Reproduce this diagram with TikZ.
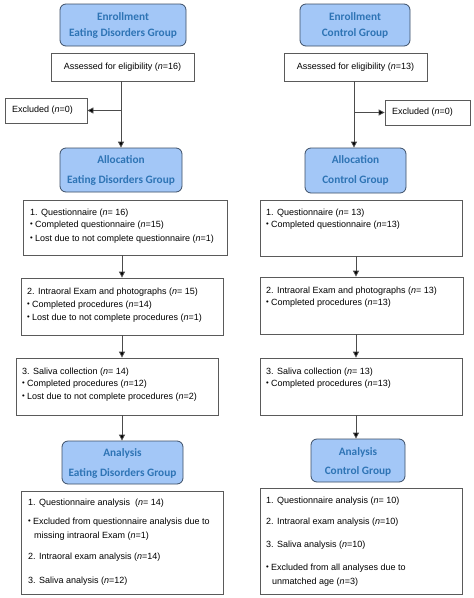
\documentclass[tikz,border=0pt]{standalone}
\usepackage{fontspec}
\usepackage{graphicx}
\setmainfont{Liberation Sans}
\newfontfamily\headfont{Carlito}
\usetikzlibrary{arrows.meta}
\definecolor{hfill}{HTML}{A3C7F7}
\definecolor{hdraw}{HTML}{3C4E66}
\definecolor{htext}{HTML}{2E74B5}
\definecolor{bdraw}{HTML}{5A5A5A}
\newcommand\bul{\raisebox{0.15ex}{\scalebox{0.85}{•}}\hspace{0.25em}}
\begin{document}
\begin{tikzpicture}[x=1pt,y=-1pt,
  head/.style={draw=hdraw,fill=hfill,rounded corners=6pt,line width=0.8pt,inner sep=0pt},
  htxt/.style={font=\headfont\bfseries\fontsize{11.3}{13}\selectfont,text=htext,inner sep=0pt},
  box/.style={draw=bdraw,line width=0.8pt,inner sep=0pt},
  txt/.style={font=\fontsize{9}{10}\selectfont,inner sep=0pt,anchor=west},
  arr/.style={draw=black!70,line width=0.8pt,-{Triangle[length=6pt,width=6pt,fill=black]}}]
\useasboundingbox (0,0) rectangle (474,598);
\fill[white] (0,0) rectangle (474,598);
\coordinate (lx) at (121,0);
\coordinate (rx) at (354,0);
\coordinate (lx2) at (122,0);
\coordinate (rx2) at (356,0);
% ---------- Left column ----------
\node[head,minimum width=126pt,minimum height=42pt] (enL) at (123,25) {};
\node[htxt] (enL1) at (123,17) {Enrollment};
\node[htxt] (enL2) at (123,33) {Eating Disorders Group};
\node[box,minimum width=143pt,minimum height=28pt] (asL) at (122.5,67) {};
\node[txt,anchor=center] (asLt) at (asL.center) {Assessed for eligibility ({\itshape n}=16)};
\node[box,minimum width=82pt,minimum height=25pt] (exL) at (46,110.5) {};
\node[txt] (exLt) at (12,110.5) {Excluded ({\itshape n}=0)};
\node[head,minimum width=122pt,minimum height=44pt] (alL) at (121,170) {};
\node[htxt] (alL1) at (121,160) {Allocation};
\node[htxt] (alL2) at (121,180) {Eating Disorders Group};
\node[box,minimum width=204pt,minimum height=55pt] (q1L) at (125,227.5) {};
\node[txt] (q1La) at (30,213) {1. Questionnaire ({\itshape n}= 16)};
\node[txt] (q1Lb) at (30,225) {\bul Completed questionnaire ({\itshape n}=15)};
\node[txt] (q1Lc) at (30,239) {\bul Lost due to not complete questionnaire ({\itshape n}=1)};
\node[box,minimum width=202pt,minimum height=57pt] (q2L) at (122,306.5) {};
\node[txt] (q2La) at (27,292) {2. Intraoral Exam and photographs ({\itshape n}= 15)};
\node[txt] (q2Lb) at (27,305) {\bul Completed procedures ({\itshape n}=14)};
\node[txt] (q2Lc) at (27,318) {\bul Lost due to not complete procedures ({\itshape n}=1)};
\node[box,minimum width=202pt,minimum height=57pt] (q3L) at (117,386.5) {};
\node[txt] (q3La) at (22,372) {3. Saliva collection ({\itshape n}= 14)};
\node[txt] (q3Lb) at (22,384) {\bul Completed procedures ({\itshape n}=12)};
\node[txt] (q3Lc) at (22,397) {\bul Lost due to not complete procedures ({\itshape n}=2)};
\node[head,minimum width=121pt,minimum height=43pt] (anL) at (122.5,462.5) {};
\node[htxt] (anL1) at (122.5,453) {Analysis};
\node[htxt] (anL2) at (122.5,473) {Eating Disorders Group};
\node[box,minimum width=202pt,minimum height=103pt] (reL) at (122,542.5) {};
\node[txt] (reLa) at (28,503) {1. Questionnaire analysis\ \ ({\itshape n}= 14)};
\node[txt] (reLb) at (28,522) {\bul Excluded from questionnaire analysis due to};
\node[txt] (reLc) at (34,536) {missing intraoral Exam ({\itshape n}=1)};
\node[txt] (reLd) at (28,557) {2. Intraoral exam analysis ({\itshape n}=14)};
\node[txt] (reLe) at (28,581) {3. Saliva analysis ({\itshape n}=12)};
% ---------- Right column ----------
\node[head,minimum width=110pt,minimum height=42pt] (enR) at (355,25) {};
\node[htxt] (enR1) at (355,17) {Enrollment};
\node[htxt] (enR2) at (355,33) {Control Group};
\node[box,minimum width=143pt,minimum height=28pt] (asR) at (355.5,67) {};
\node[txt,anchor=center] (asRt) at (asR.center) {Assessed for eligibility ({\itshape n}=13)};
\node[box,minimum width=85pt,minimum height=25pt] (exR) at (427.5,112.5) {};
\node[txt] (exRt) at (392,112.5) {Excluded ({\itshape n}=0)};
\node[head,minimum width=101pt,minimum height=45pt] (alR) at (355.5,170.5) {};
\node[htxt] (alR1) at (355.5,160) {Allocation};
\node[htxt] (alR2) at (355.5,180) {Control Group};
\node[box,minimum width=202pt,minimum height=56pt] (q1R) at (361,228) {};
\node[txt] (q1Ra) at (266,213) {1. Questionnaire ({\itshape n}= 13)};
\node[txt] (q1Rb) at (266,225) {\bul Completed questionnaire ({\itshape n}=13)};
\node[box,minimum width=203pt,minimum height=57pt] (q2R) at (361.5,305.5) {};
\node[txt] (q2Ra) at (266,291) {2. Intraoral Exam and photographs ({\itshape n}= 13)};
\node[txt] (q2Rb) at (266,303) {\bul Completed procedures ({\itshape n}=13)};
\node[box,minimum width=202pt,minimum height=57pt] (q3R) at (361,386.5) {};
\node[txt] (q3Ra) at (266,372) {3. Saliva collection ({\itshape n}= 13)};
\node[txt] (q3Rb) at (266,384) {\bul Completed procedures ({\itshape n}=13)};
\node[head,minimum width=94pt,minimum height=43pt] (anR) at (358,460.5) {};
\node[htxt] (anR1) at (358,452) {Analysis};
\node[htxt] (anR2) at (358,471) {Control Group};
\node[box,minimum width=202pt,minimum height=106pt] (reR) at (361,541) {};
\node[txt] (reRa) at (266,501) {1. Questionnaire analysis ({\itshape n}= 10)};
\node[txt] (reRb) at (266,522) {2. Intraoral exam analysis ({\itshape n}=10)};
\node[txt] (reRc) at (266,545) {3. Saliva analysis ({\itshape n}=10)};
\node[txt] (reRd) at (266,568) {\bul Excluded from all analyses due to};
\node[txt] (reRe) at (272,582) {unmatched age ({\itshape n}=3)};
% ---------- Connectors ----------
\draw[arr] (asL.south -| lx) -- (alL.north -| lx);
\draw[arr] (exL.east -| lx) -- (exL.east);
\draw[arr] (q1L.south -| lx2) -- (q2L.north -| lx2);
\draw[arr] (q2L.south -| lx2) -- (q3L.north -| lx2);
\draw[arr] (q3L.south -| lx2) -- (anL.north -| lx2);
\draw[arr] (asR.south -| rx) -- (alR.north -| rx);
\draw[arr] (exR.west -| rx) -- (exR.west);
\draw[arr] (q1R.south -| rx2) -- (q2R.north -| rx2);
\draw[arr] (q2R.south -| rx2) -- (q3R.north -| rx2);
\draw[arr] (q3R.south -| rx2) -- (anR.north -| rx2);
\end{tikzpicture}
\end{document}
